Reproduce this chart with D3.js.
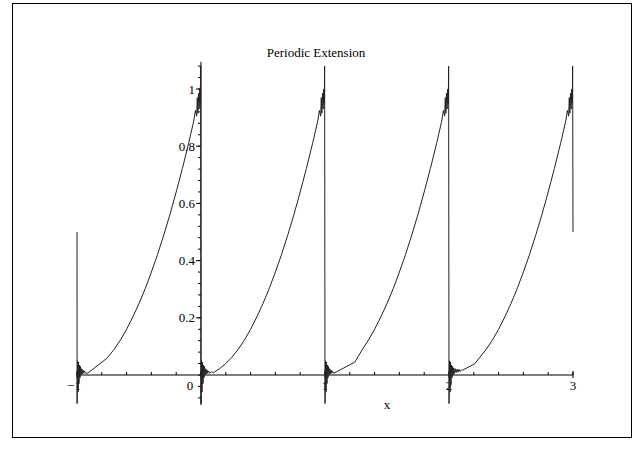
<!DOCTYPE html>
<html><head><meta charset="utf-8">
<script src="https://cdn.jsdelivr.net/npm/d3@7"></script>
<style>body{margin:0;background:#fff}svg{display:block}text{font-family:"Liberation Serif","Times New Roman",serif;font-size:13px;fill:#000}</style>
</head><body><div id="chart"></div>
<script>
const title = "Periodic Extension";
const xLabel = "x";
const xTickValues = [-1, 0, 1, 2, 3];
const xTickLabels = ["-1", "0", "1", "2", "3"];
const yTickValues = [0.2, 0.4, 0.6, 0.8, 1];
const yTickLabels = ["0.2", "0.4", "0.6", "0.8", "1"];
const xDomain = [-1, 3];
const yDomain = [-0.105, 1.095];

// periodic extension
const periodM1 = [[-1.000,0.50],[-0.999,-0.10],[-0.996,0.05],[-0.992,-0.06],[-0.988,0.045],[-0.984,-0.03],[-0.980,0.035],[-0.976,-0.01],[-0.972,0.03],[-0.967,0.0],[-0.962,0.022],[-0.957,0.004],[-0.952,0.018],[-0.946,0.006],[-0.940,0.014],[-0.930,0.006],[-0.912,0.007],[-0.76,0.058],[-0.70,0.09],[-0.65,0.122],[-0.60,0.16],[-0.55,0.203],[-0.50,0.25],[-0.45,0.302],[-0.40,0.36],[-0.35,0.422],[-0.30,0.49],[-0.25,0.562],[-0.20,0.64],[-0.15,0.722],[-0.10,0.81],[-0.06,0.885],[-0.045,0.925],[-0.035,0.905],[-0.030,0.97],[-0.025,0.915],[-0.020,0.985],[-0.015,0.93],[-0.010,1.0],[-0.006,0.95],[-0.003,1.08]];
const period0 = [[0.000,-0.10],[0.004,0.05],[0.008,-0.06],[0.012,0.045],[0.016,-0.03],[0.020,0.035],[0.024,-0.01],[0.028,0.03],[0.033,0.0],[0.038,0.022],[0.043,0.004],[0.048,0.018],[0.054,0.006],[0.060,0.014],[0.070,0.006],[0.085,0.012],[0.100,0.008],[0.15,0.022],[0.20,0.04],[0.25,0.0625],[0.30,0.09],[0.35,0.122],[0.40,0.16],[0.45,0.203],[0.50,0.25],[0.55,0.302],[0.60,0.36],[0.65,0.422],[0.70,0.49],[0.75,0.562],[0.80,0.64],[0.85,0.722],[0.90,0.81],[0.94,0.885],[0.955,0.925],[0.965,0.905],[0.970,0.97],[0.975,0.915],[0.980,0.985],[0.985,0.93],[0.990,1.0],[0.994,0.95],[0.997,1.08]];
const period1 = [[1.000,-0.10],[1.004,0.05],[1.008,-0.06],[1.012,0.045],[1.016,-0.03],[1.020,0.035],[1.024,-0.01],[1.028,0.03],[1.033,0.0],[1.038,0.022],[1.043,0.004],[1.048,0.018],[1.054,0.006],[1.060,0.014],[1.070,0.006],[1.080,0.008],[1.24,0.045],[1.30,0.088],[1.35,0.122],[1.40,0.16],[1.45,0.203],[1.50,0.25],[1.55,0.302],[1.60,0.36],[1.65,0.422],[1.70,0.49],[1.75,0.562],[1.80,0.64],[1.85,0.722],[1.90,0.81],[1.94,0.885],[1.955,0.925],[1.965,0.905],[1.970,0.97],[1.975,0.915],[1.980,0.985],[1.985,0.93],[1.990,1.0],[1.994,0.95],[1.997,1.08]];
const period2 = [[2.000,-0.10],[2.004,0.05],[2.008,-0.06],[2.012,0.045],[2.016,-0.03],[2.020,0.035],[2.024,-0.01],[2.028,0.03],[2.033,0.0],[2.038,0.025],[2.043,0.005],[2.050,0.022],[2.057,0.008],[2.064,0.02],[2.072,0.01],[2.080,0.02],[2.090,0.012],[2.100,0.018],[2.110,0.017],[2.21,0.04],[2.25,0.0625],[2.30,0.09],[2.35,0.122],[2.40,0.16],[2.45,0.203],[2.50,0.25],[2.55,0.302],[2.60,0.36],[2.65,0.422],[2.70,0.49],[2.75,0.562],[2.80,0.64],[2.85,0.722],[2.90,0.81],[2.94,0.885],[2.955,0.925],[2.965,0.905],[2.970,0.97],[2.975,0.915],[2.980,0.985],[2.985,0.93],[2.990,1.0],[2.994,0.95],[2.997,1.08],[3.000,0.50]];

const W = 636, H = 449;
const svg = d3.select("#chart").append("svg").attr("width", W).attr("height", H);

svg.append("rect").attr("x", 12.5).attr("y", 3.5).attr("width", 619).attr("height", 434)
  .attr("fill", "none").attr("stroke", "#000").attr("stroke-width", 1);

const x = d3.scaleLinear().domain(xDomain).range([77, 573]);
const y = d3.scaleLinear().domain([0, 1]).range([375, 89]);

const g = svg.append("g");

// x axis line + ticks
g.append("line").attr("x1", x(xDomain[0])).attr("x2", x(xDomain[1]))
  .attr("y1", y(0)).attr("y2", y(0)).attr("stroke", "#000");
const xMinor = d3.range(-1, 3.0001, 0.2);
g.selectAll(".xm").data(xMinor).enter().append("line")
  .attr("x1", d => x(d)).attr("x2", d => x(d))
  .attr("y1", y(0) - 3).attr("y2", y(0)).attr("stroke", "#000");
g.selectAll(".xM").data(xTickValues).enter().append("line")
  .attr("x1", d => x(d)).attr("x2", d => x(d))
  .attr("y1", y(0) - 4).attr("y2", y(0) + 3).attr("stroke", "#000");
g.selectAll(".xl").data(xTickValues).enter().append("text")
  .attr("x", (d) => d === 0 ? x(d) - 11 : (d === -1 ? x(d) - 3 : x(d)))
  .attr("y", y(0) + 15).attr("text-anchor", "middle")
  .text((d, i) => xTickLabels[i].replace("-", "\u2212"));

// y axis
g.append("line").attr("x1", x(0)).attr("x2", x(0))
  .attr("y1", y(yDomain[0])).attr("y2", y(yDomain[1])).attr("stroke", "#000");
const yMinor = d3.range(-0.08, 1.0801, 0.04);
g.selectAll(".ym").data(yMinor).enter().append("line")
  .attr("x1", x(0) - 3).attr("x2", x(0))
  .attr("y1", d => y(d)).attr("y2", d => y(d)).attr("stroke", "#000");
g.selectAll(".yM").data(yTickValues).enter().append("line")
  .attr("x1", x(0) - 5).attr("x2", x(0))
  .attr("y1", d => y(d)).attr("y2", d => y(d)).attr("stroke", "#000");
g.selectAll(".yl").data(yTickValues).enter().append("text")
  .attr("x", x(0) - 6).attr("y", d => y(d) + 4.5).attr("text-anchor", "end")
  .text((d, i) => yTickLabels[i]);

// curve
const line = d3.line().x(d => x(d[0])).y(d => y(d[1]));
const curve = periodM1.concat(period0, period1, period2);
g.append("path").datum(curve).attr("d", line)
  .attr("fill", "none").attr("stroke", "#222").attr("stroke-width", 1);

// title and x label
svg.append("text").attr("x", 316).attr("y", 57).attr("text-anchor", "middle").text(title);
svg.append("text").attr("x", x(1.5)).attr("y", 409).attr("text-anchor", "middle").text(xLabel);
</script></body></html>
